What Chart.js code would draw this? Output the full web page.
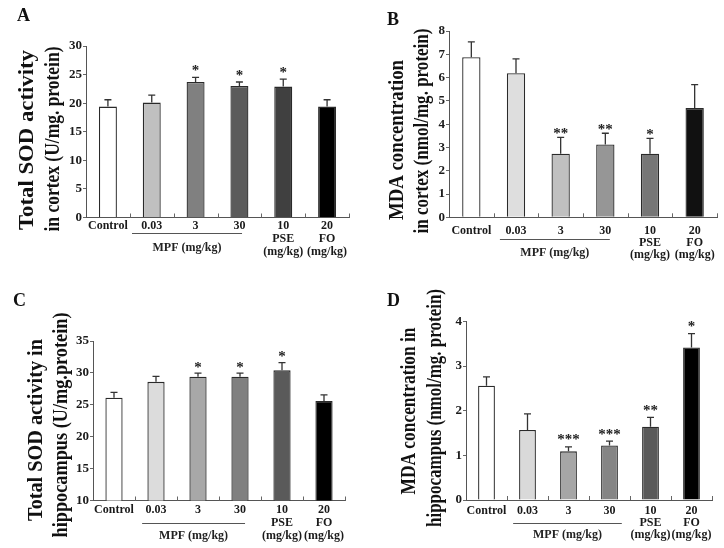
<!DOCTYPE html>
<html>
<head>
<meta charset="utf-8">
<script src="https://cdn.jsdelivr.net/npm/chart.js@4.4.1/dist/chart.umd.min.js"></script>
<style>
html,body{margin:0;padding:0;background:#fff;}
#wrap{position:relative;width:724px;height:548px;overflow:hidden;background:#fff;}
canvas{position:absolute;}
</style>
</head>
<body>
<div id="wrap">
<canvas id="cA" width="362" height="274" style="left:0;top:0"></canvas>
<canvas id="cB" width="362" height="274" style="left:362px;top:0"></canvas>
<canvas id="cC" width="362" height="274" style="left:0;top:274px"></canvas>
<canvas id="cD" width="362" height="274" style="left:362px;top:274px"></canvas>
</div>
<script>
// ---------- data ----------
const categories = [["Control"], ["0.03"], ["3"], ["30"], ["10", "PSE", "(mg/kg)"], ["20", "FO", "(mg/kg)"]];
const groupLabel = "MPF (mg/kg)";

const sodCortex    = [19.4, 20.1, 23.7, 23.0, 22.9, 19.4];
const sodCortexErr = [1.2, 1.3, 0.8, 0.7, 1.3, 1.2];
const sodCortexSig = ["", "", "*", "*", "*", ""];
const sodCortexAxis = [0, 30, 5];
const sodCortexTitle = ["Total SOD activity", "in cortex (U/mg. protein)"];

const mdaCortex    = [6.87, 6.19, 2.73, 3.13, 2.73, 4.69];
const mdaCortexErr = [0.66, 0.61, 0.70, 0.48, 0.66, 1.01];
const mdaCortexSig = ["", "", "**", "**", "*", ""];
const mdaCortexAxis = [0, 8, 1];
const mdaCortexTitle = ["MDA concentration", "in cortex (nmol/mg. protein)"];

const sodHippo    = [26.1, 28.6, 29.4, 29.4, 30.4, 25.6];
const sodHippoErr = [0.85, 0.87, 0.58, 0.58, 1.2, 0.95];
const sodHippoSig = ["", "", "*", "*", "*", ""];
const sodHippoAxis = [10, 35, 5];
const sodHippoTitle = ["Total SOD activity in", "hippocampus (U/mg.protein)"];

const mdaHippo    = [2.56, 1.57, 1.09, 1.22, 1.64, 3.42];
const mdaHippoErr = [0.20, 0.36, 0.10, 0.10, 0.21, 0.31];
const mdaHippoSig = ["", "", "***", "***", "**", "*"];
const mdaHippoAxis = [0, 4, 1];
const mdaHippoTitle = ["MDA concentration in", "hippocampus (nmol/mg. protein)"];

// ---------- styling / layout ----------
const SERIF = '"Liberation Serif", "Times New Roman", serif';

const decor = {
  id: 'decor',
  afterDatasetsDraw(chart, args, o) {
    const ctx = chart.ctx, xs = chart.scales.x, ys = chart.scales.y;
    const vals = chart.data.datasets[0].data;
    ctx.save();
    ctx.strokeStyle = '#333';
    ctx.lineWidth = 1.3;
    vals.forEach((v, i) => {
      const px = xs.getPixelForValue(i);
      const yb = ys.getPixelForValue(v);
      const yt = ys.getPixelForValue(v + o.err[i]);
      ctx.beginPath();
      ctx.moveTo(px, yb); ctx.lineTo(px, yt);
      ctx.moveTo(px - 3.5, yt); ctx.lineTo(px + 3.5, yt);
      ctx.stroke();
      if (o.sig[i]) {
        ctx.fillStyle = '#222';
        ctx.font = 'bold 15px ' + SERIF;
        ctx.textAlign = 'center';
        ctx.textBaseline = 'alphabetic';
        ctx.fillText(o.sig[i], px, yt - o.starGap + 7.5);
      }
    });
    ctx.restore();
  },
  afterDraw(chart, args, o) {
    const ctx = chart.ctx, xs = chart.scales.x, ca = chart.chartArea;
    const n = chart.data.labels.length;
    const cw = xs.getPixelForValue(1) - xs.getPixelForValue(0);
    ctx.save();
    // upward category ticks
    ctx.strokeStyle = '#666';
    ctx.lineWidth = 1;
    for (let k = 1; k <= n; k++) {
      const xp = Math.round(xs.getPixelForValue(k - 0.5)) + 0.5;
      ctx.beginPath(); ctx.moveTo(xp, ca.bottom); ctx.lineTo(xp, ca.bottom - 4); ctx.stroke();
    }
    // group underline + label
    const x1 = xs.getPixelForValue(1) - o.under[0] * cw;
    const x2 = xs.getPixelForValue(3) + o.under[1] * cw;
    const uy = Math.round(ca.bottom + o.underOff) + 0.5;
    ctx.strokeStyle = '#555';
    ctx.beginPath(); ctx.moveTo(x1, uy); ctx.lineTo(x2, uy); ctx.stroke();
    ctx.fillStyle = '#222';
    ctx.font = 'bold 12px ' + SERIF;
    ctx.textAlign = 'center';
    ctx.textBaseline = 'middle';
    ctx.fillText(groupLabel, (x1 + x2) / 2, ca.bottom + o.groupOff);
    // y title (two lines, rotated)
    o.title.forEach((line, j) => {
      ctx.save();
      ctx.translate(o.titlePos[j][0], o.titlePos[j][1]);
      ctx.rotate(-Math.PI / 2);
      ctx.font = 'bold ' + o.titleSize + 'px ' + SERIF;
      const w = ctx.measureText(line).width;
      ctx.scale(o.titleLen[j] / w, 1);
      ctx.fillStyle = '#111';
      ctx.textAlign = 'center';
      ctx.textBaseline = 'middle';
      ctx.fillText(line, 0, 0);
      ctx.restore();
    });
    // panel letter
    ctx.fillStyle = '#111';
    ctx.font = 'bold 18px ' + SERIF;
    ctx.textAlign = 'left';
    ctx.textBaseline = 'alphabetic';
    ctx.fillText(o.letter, o.letterPos[0], o.letterPos[1]);
    ctx.restore();
  }
};

function makePanel(id, vals, err, sig, axis, title, colors, L) {
  const W = 362, H = 274;
  new Chart(document.getElementById(id), {
    type: 'bar',
    data: {
      labels: categories,
      datasets: [{
        data: vals,
        backgroundColor: colors,
        borderColor: '#2a2a2a',
        borderWidth: 1.3,
        borderSkipped: 'bottom',
        barPercentage: 0.41,
        categoryPercentage: 1
      }]
    },
    options: {
      responsive: false,
      animation: false,
      events: [],
      layout: { padding: { left: 0, top: L.top, right: W - L.right, bottom: 0 } },
      plugins: {
        legend: { display: false },
        tooltip: { enabled: false },
        decor: {
          err: err, sig: sig, title: title,
          titlePos: L.titlePos, titleLen: L.titleLen, titleSize: L.titleSize,
          under: L.under, underOff: L.underOff, groupOff: L.groupOff,
          starGap: L.starGap, letter: L.letter, letterPos: L.letterPos
        }
      },
      scales: {
        x: {
          type: 'category',
          offset: true,
          grid: { display: false, drawTicks: false },
          border: { display: true, color: '#555', width: 1 },
          ticks: {
            autoSkip: false, maxRotation: 0, minRotation: 0,
            color: '#1a1a1a', padding: L.xPad,
            font: { family: SERIF, size: 12, weight: 'bold', lineHeight: L.xLine / 12 }
          },
          afterFit(s) { s.height = H - L.bottom; }
        },
        y: {
          min: axis[0], max: axis[1],
          grid: { drawOnChartArea: false, drawTicks: true, tickLength: 3, color: '#666' },
          border: { display: true, color: '#555', width: 1 },
          ticks: {
            stepSize: axis[2], padding: 1, color: '#1a1a1a',
            font: { family: SERIF, size: 13, weight: 'bold' }
          },
          afterFit(s) { s.width = L.left; }
        }
      }
    },
    plugins: [decor]
  });
}

makePanel('cA', sodCortex, sodCortexErr, sodCortexSig, sodCortexAxis, sodCortexTitle,
  ['#ffffff', '#c0c0c0', '#808080', '#5b5b5b', '#404040', '#000000'],
  { left: 86, right: 349, top: 46, bottom: 217.5, xPad: 2.3, xLine: 13,
    under: [0.45, 0.06], underOff: 15.5, groupOff: 30.5, starGap: 10,
    titlePos: [[27, 140], [53, 139]], titleLen: [180, 185], titleSize: 22,
    letter: 'A', letterPos: [17, 21] });

makePanel('cB', mdaCortex, mdaCortexErr, mdaCortexSig, mdaCortexAxis, mdaCortexTitle,
  ['#ffffff', '#dedede', '#c0c0c0', '#969696', '#767676', '#111111'],
  { left: 87, right: 355, top: 31, bottom: 217.3, xPad: 8, xLine: 12,
    under: [0.36, 0.1], underOff: 22, groupOff: 36, starGap: 7,
    titlePos: [[35, 140], [60, 131]], titleLen: [160, 205], titleSize: 22,
    letter: 'B', letterPos: [25, 25] });

makePanel('cC', sodHippo, sodHippoErr, sodHippoSig, sodHippoAxis, sodHippoTitle,
  ['#ffffff', '#dcdcdc', '#a8a8a8', '#808080', '#5a5a5a', '#000000'],
  { left: 93, right: 345, top: 67, bottom: 226.5, xPad: 2.5, xLine: 13,
    under: [0.33, 0.12], underOff: 22, groupOff: 35.5, starGap: 9,
    titlePos: [[36, 156], [61, 151]], titleLen: [182, 225], titleSize: 22,
    letter: 'C', letterPos: [13, 32] });

makePanel('cD', mdaHippo, mdaHippoErr, mdaHippoSig, mdaHippoAxis, mdaHippoTitle,
  ['#ffffff', '#d9d9d9', '#a6a6a6', '#858585', '#5a5a5a', '#000000'],
  { left: 104, right: 350, top: 47.5, bottom: 226, xPad: 5, xLine: 12,
    under: [0.35, 0.3], underOff: 23, groupOff: 35, starGap: 10,
    titlePos: [[47, 137], [73, 134]], titleLen: [167, 238], titleSize: 22,
    letter: 'D', letterPos: [25, 32] });
</script>
</body>
</html>
